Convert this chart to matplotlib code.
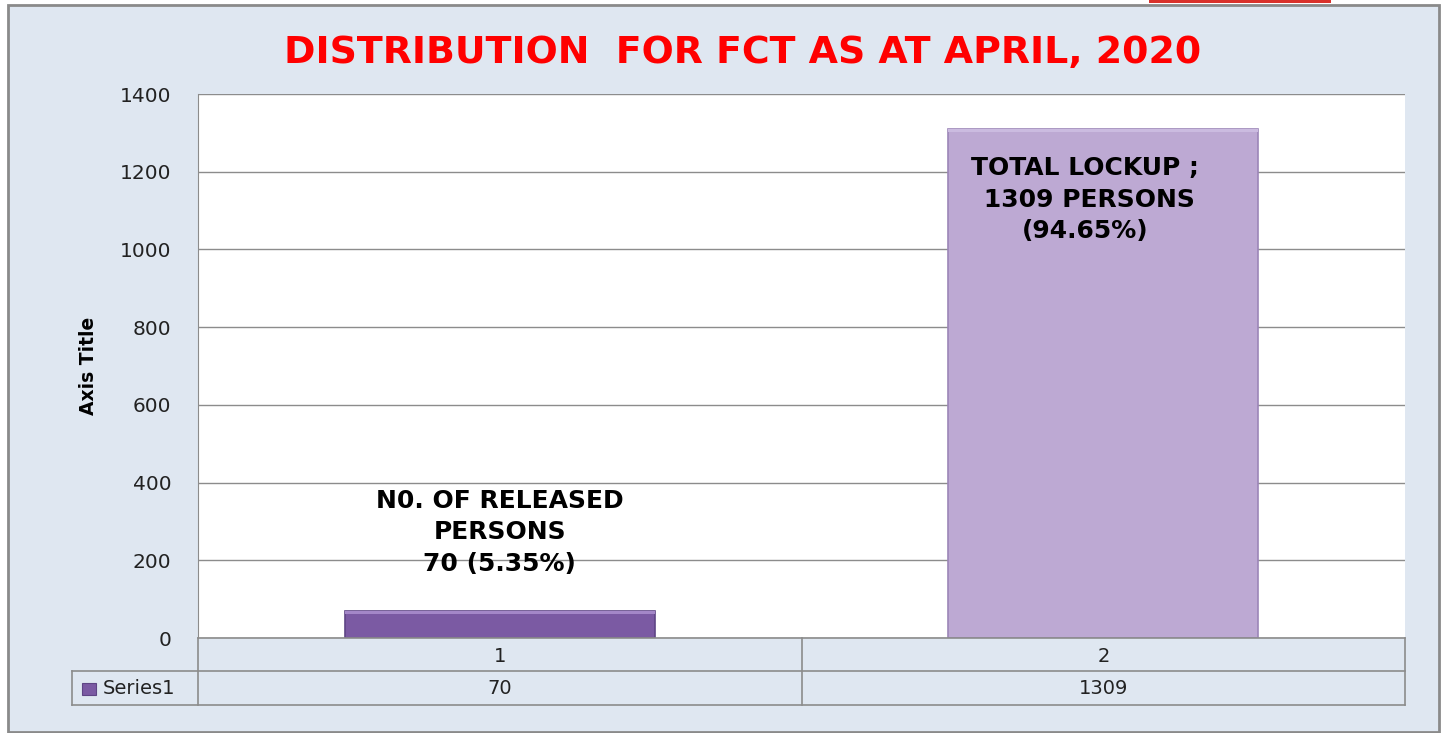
import numpy as np
import matplotlib.pyplot as plt
from matplotlib.patches import Rectangle
from matplotlib.lines import Line2D

categories = ['1', '2']
values = [70, 1309]
series_name = 'Series1'
bar_notes = ['N0. OF RELEASED\nPERSONS\n70 (5.35%)',
             'TOTAL LOCKUP ;\n 1309 PERSONS\n(94.65%)']
yticks = [0, 200, 400, 600, 800, 1000, 1200, 1400]

W, H = 1443, 733
bg = '#dfe7f1'
grid_c = '#8c8c8c'

fig = plt.figure(figsize=(W / 100, H / 100), dpi=100)
fig.patch.set_facecolor('white')

def fx(px):
    return px / W

def fy(py):
    return 1 - py / H

# outer chart area with border
fig.add_artist(Rectangle((fx(8), fy(732)), fx(1439) - fx(8), fy(5) - fy(732),
                         transform=fig.transFigure, facecolor=bg,
                         edgecolor='#8a8a8a', lw=2, zorder=0))
# red strip at the very top
fig.add_artist(Rectangle((fx(1149), fy(3)), fx(1331) - fx(1149), fy(0) - fy(3),
                         transform=fig.transFigure, facecolor='#d9312b',
                         edgecolor='none', zorder=1))

ax = fig.add_axes([fx(198), fy(638), fx(1405) - fx(198), fy(94) - fy(638)])
ax.set_facecolor('white')
x = np.arange(len(categories))
colors = ['#7b5aa3', '#bda9d3']
edges = ['#5f4585', '#9c86b8']
ax.bar(x, values, width=0.514, color=colors, edgecolor=edges, lw=1.2, zorder=3)
# light bevel on the top of each bar
ax.bar(x, [8 for v in values], bottom=[v - 8 for v in values],
       width=0.514, color=['#a487c8', '#cbbbe0'], edgecolor='none', zorder=4)

ax.set_xlim(-0.5, 1.5)
ax.set_ylim(0, 1400)
ax.set_yticks(yticks)
ax.set_yticklabels([str(t) for t in yticks], fontsize=14.5, color='#222222',
                   family='DejaVu Sans')
ax.tick_params(axis='y', length=0, pad=19)
ax.set_xticks([])
ax.yaxis.grid(True, color=grid_c, lw=1)
ax.set_axisbelow(True)
for s in ['top', 'right', 'bottom']:
    ax.spines[s].set_visible(False)
ax.spines['left'].set_color(grid_c)
ax.set_ylabel('Axis Title', fontsize=13.5, fontweight='bold',
              family='Liberation Sans Narrow', labelpad=16)

note_kw = dict(ha='center', fontsize=18, fontweight='bold',
               family='DejaVu Sans', linespacing=1.4, zorder=5)
ax.text(0, 160, bar_notes[0], va='bottom', **note_kw)
ax.text(0.97, 1240, bar_notes[1], va='top', **note_kw)

fig.text(fx(743), fy(53), 'DISTRIBUTION  FOR FCT AS AT APRIL, 2020',
         ha='center', va='center', color='#ff0000', fontsize=27.3,
         fontweight='bold', family='DejaVu Sans')

# data table under the axes
def hline(x0, x1, y):
    fig.add_artist(Line2D([fx(x0), fx(x1)], [fy(y), fy(y)], color=grid_c, lw=1.2,
                          transform=fig.transFigure))

def vline(xp, y0, y1):
    fig.add_artist(Line2D([fx(xp), fx(xp)], [fy(y0), fy(y1)], color=grid_c, lw=1.2,
                          transform=fig.transFigure))

hline(198, 1405, 638)
hline(72, 1405, 671)
hline(72, 1405, 705)
vline(72, 671, 705)
vline(198, 638, 705)
vline(802, 638, 705)
vline(1405, 638, 705)

centers = [500, 1104]
for c, cat, v in zip(centers, categories, values):
    fig.text(fx(c), fy(656), cat, ha='center', va='center', fontsize=14,
             family='DejaVu Sans', color='#222222')
    fig.text(fx(c), fy(689), str(v), ha='center', va='center', fontsize=14,
             family='DejaVu Sans', color='#222222')

fig.add_artist(Rectangle((fx(82), fy(695)), fx(14), fy(0) - fy(12),
                         transform=fig.transFigure, facecolor='#7b5aa3',
                         edgecolor='#5f4585', lw=0.8))
fig.text(fx(103), fy(689), series_name, ha='left', va='center', fontsize=14,
         family='DejaVu Sans', color='#222222')

fig.savefig('out.png', dpi=100)
